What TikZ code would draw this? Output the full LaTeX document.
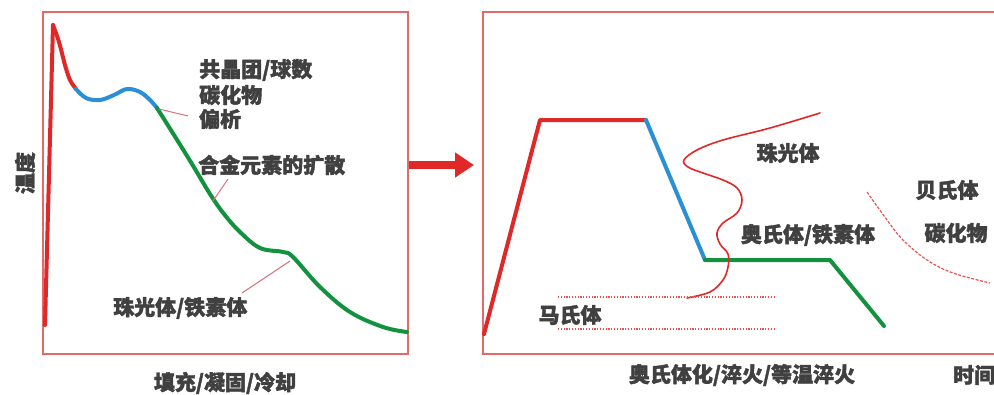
\documentclass[tikz,border=0pt]{standalone}
\usepackage{fontspec}
\newfontfamily\cjk{Noto Sans CJK SC}[FakeBold=1.8]
\usetikzlibrary{arrows.meta}
\definecolor{cred}{HTML}{E02828}
\definecolor{cblue}{HTML}{2A8FD6}
\definecolor{cgreen}{HTML}{12913F}
\definecolor{boxred}{HTML}{E46A6A}
\definecolor{lblline}{HTML}{D87080}
\definecolor{txt}{HTML}{404040}
\begin{document}
\begin{tikzpicture}[x=1pt,y=-1pt,
  lbl/.style={font=\cjk\bfseries\fontsize{21}{25}\selectfont, text=txt, inner sep=0pt},
  panel/.style={draw=boxred, line width=1.5pt, inner sep=0pt},
  thick curve/.style={line width=4pt, line cap=round, line join=round},
  leader/.style={draw=lblline, line width=1pt},
  thin red/.style={draw=cred, line width=1.6pt, line cap=round},
  dotline/.style={draw=cred!80, line width=1.5pt, dash pattern=on 1.2pt off 1.6pt}]
\useasboundingbox (0,0) rectangle (994,394);
\clip (0,0) rectangle (994,394);

% panels
\node[panel, minimum width=365pt, minimum height=342pt] (leftbox) at (225.5,183) {};
\node[panel, minimum width=540pt, minimum height=342pt] (rightbox) at (753,183) {};

% arrow between panels
\coordinate (a1) at (409,165);
\coordinate (a2) at (474,165);
\draw[cred, line width=8pt, -{Triangle[length=19pt,width=24pt]}] (a1) -- (a2);

% left curve
\draw[cred, thick curve] (45,325) -- (53,25);
\draw[cred, thick curve] plot[smooth, tension=0.6] coordinates {(53,25) (59,42) (65,65) (70,80) (76,89)};
\draw[cblue, thick curve] plot[smooth, tension=0.6] coordinates {(76,89) (86,98) (100,100) (114,95) (127,89) (140,92) (150,100) (157,108)};
\draw[cgreen, thick curve] plot[smooth, tension=0.6] coordinates {(157,108) (174,135) (192,164) (210,194) (224,214) (240,232) (260,248) (283,252) (293,257) (320,287) (350,312) (383,327) (407,332)};

% left labels
\node[lbl, anchor=west] (l1) at (199,70) {共晶团/球数};
\node[lbl, anchor=west] (l2) at (199,95) {碳化物};
\node[lbl, anchor=west] (l3) at (199,119) {偏析};
\node[lbl, anchor=west] (l4) at (198,165) {合金元素的扩散};
\node[lbl, anchor=west] (l5) at (113,308) {珠光体/铁素体};
\node[lbl, rotate=90] (ylab) at (25,173) {温度};
\node[lbl] (xlab1) at (225,383) {填充/凝固/冷却};

% leader lines
\coordinate (p1a) at (159,109);
\coordinate (p1b) at (188,116);
\draw[leader] (p1a) -- (p1b);
\coordinate (p2a) at (213,201);
\coordinate (p2b) at (228,179);
\draw[leader] (p2a) -- (p2b);
\coordinate (p3a) at (290,261);
\coordinate (p3b) at (242,293);
\draw[leader] (p3a) -- (p3b);

% right panel process line
\draw[cred, thick curve] (484,334) -- (540,120) -- (646,120);
\draw[cblue, thick curve] (646,120) -- (705,260);
\draw[cgreen, thick curve] (705,260) -- (830,260) -- (884,326);

% C curve
\draw[thin red] plot[smooth, tension=0.6] coordinates {(820,113) (770,128) (723,140) (697,150) (684,160) (688,167) (703,173) (723,180) (737,188) (742,200) (737,213) (723,223) (717,233) (720,244) (728,254) (728,267) (723,280) (710,292) (687,298)};

% dotted martensite lines
\coordinate (d1a) at (558,297);
\coordinate (d1b) at (774,297);
\coordinate (d2a) at (558,329);
\coordinate (d2b) at (774,329);
\draw[dotline] (d1a) -- (d1b);
\draw[dotline] (d2a) -- (d2b);

% bainite dashed curve
\draw[cred!80, line width=1.2pt, dash pattern=on 3pt off 1.5pt] plot[smooth, tension=0.6] coordinates {(867,192) (887,220) (903,240) (927,260) (953,273) (990,283)};

% right labels
\node[lbl] (r1) at (570,315) {马氏体};
\node[lbl] (r2) at (788,153) {珠光体};
\node[lbl] (r3) at (808,235) {奥氏体/铁素体};
\node[lbl] (r4) at (947,190) {贝氏体};
\node[lbl] (r5) at (956,233) {碳化物};
\node[lbl] (xlab2) at (742,375) {奥氏体化/淬火/等温淬火};
\node[lbl, anchor=west] (xlab3) at (953,375) {时间};
\end{tikzpicture}
\end{document}
